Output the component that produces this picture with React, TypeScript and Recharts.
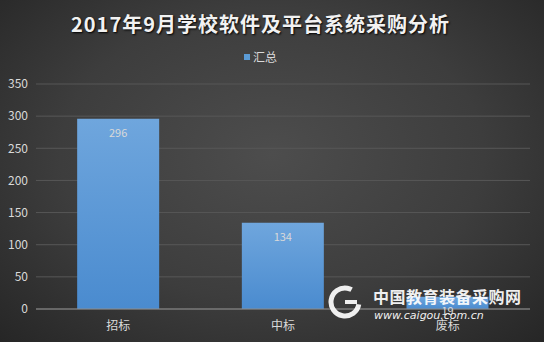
import React from 'react';
import { BarChart, Bar, XAxis, YAxis, CartesianGrid, LabelList } from 'recharts';

const categories = ['招标', '中标', '废标'];
const totals = [296, 134, 19];
const yTicks = [0, 50, 100, 150, 200, 250, 300, 350];

const data = categories.map((name, i) => ({ name, total: totals[i] }));

const FONT = '"Noto Sans CJK SC", "Noto Sans", sans-serif';
const TEXT = '#d9d9d9';

export default function App() {
  return (
    <div
      style={{
        position: 'relative',
        width: 544,
        height: 342,
        overflow: 'hidden',
        fontFamily: FONT,
        background: 'radial-gradient(ellipse at 50% 45%, #4d4d4d 0%, #3d3d3d 55%, #262626 100%)',
      }}
    >
      <style>{'body{margin:0}'}</style>
      <div
        style={{
          position: 'absolute',
          top: 9,
          left: 0,
          width: 521,
          textAlign: 'center',
          color: '#f2f2f2',
          fontSize: 20,
          fontWeight: 700,
          letterSpacing: 1,
          textShadow: '1px 1px 2px #000',
        }}
      >
        2017年9月学校软件及平台系统采购分析
      </div>
      <div
        style={{
          position: 'absolute',
          top: 48,
          left: 244,
          display: 'flex',
          alignItems: 'center',
          color: TEXT,
          fontSize: 12,
        }}
      >
        <span style={{ width: 6, height: 6, background: '#5b9bd5', marginRight: 3 }} />
        汇总
      </div>
      <BarChart
        width={544}
        height={342}
        data={data}
        margin={{ top: 84, right: 14, left: 0, bottom: 0 }}
        barCategoryGap="25%"
        style={{ position: 'absolute', top: 0, left: 0 }}
      >
        <defs>
          <linearGradient id="barFill" x1="0" y1="0" x2="0" y2="1">
            <stop offset="0%" stopColor="#6fa6dd" />
            <stop offset="100%" stopColor="#4a8bcf" />
          </linearGradient>
        </defs>
        <CartesianGrid vertical={false} stroke="#575757" />
        <XAxis
          dataKey="name"
          height={33}
          tickLine={false}
          axisLine={{ stroke: '#8c8c8c' }}
          tick={{ fill: TEXT, fontSize: 12, fontFamily: FONT }}
          tickMargin={6}
        />
        <YAxis
          width={36}
          domain={[0, 350]}
          ticks={yTicks}
          interval={0}
          tickLine={false}
          axisLine={false}
          tick={{ fill: TEXT, fontSize: 12, fontFamily: FONT }}
        />
        <Bar dataKey="total" fill="url(#barFill)" isAnimationActive={false}>
          <LabelList dataKey="total" position="insideTop" offset={10} fill={TEXT} fontSize={11} fontFamily={FONT} />
        </Bar>
      </BarChart>
      {/* site watermark in the lower right corner */}
      <div style={{ position: 'absolute', left: 328, top: 283, width: 200, height: 44, opacity: 0.92 }}>
        <svg width={200} height={44} style={{ position: 'absolute', left: 0, top: 0 }}>
          <circle cx={17} cy={19} r={14} fill="none" stroke="#ffffff" strokeWidth={5} strokeDasharray="70 18" transform="rotate(10 17 19)" />
          <rect x={17} y={17} width={12} height={4} fill="#ffffff" />
        </svg>
        <div style={{ position: 'absolute', left: 45, top: 4, color: '#ffffff', fontSize: 16, fontWeight: 700, letterSpacing: 0.5, whiteSpace: 'nowrap', lineHeight: '18px' }}>
          中国教育装备采购网
        </div>
        <div style={{ position: 'absolute', left: 46, top: 27, color: '#ffffff', fontSize: 11, fontStyle: 'italic', fontFamily: '"DejaVu Sans", sans-serif', whiteSpace: 'nowrap', lineHeight: '12px' }}>
          www.caigou.com.cn
        </div>
      </div>
    </div>
  );
}
